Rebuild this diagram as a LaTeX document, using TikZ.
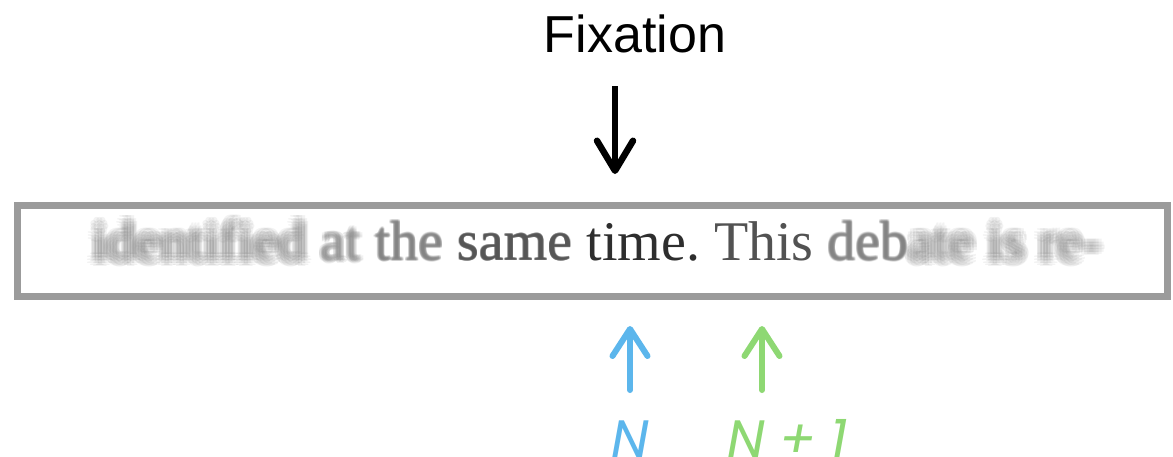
\documentclass[tikz,border=0pt]{standalone}
\usepackage{fontspec}
\setmainfont{Liberation Serif}
\newfontfamily\labelfont{Liberation Sans}
\newfontfamily\nfont[FakeSlant=0.18]{Poppins}
\usetikzlibrary{arrows.meta}
\definecolor{boxgray}{HTML}{9B9B9B}
\definecolor{nblue}{HTML}{5CB6EC}
\definecolor{ngreen}{HTML}{8ED873}
\tikzset{
  word/.style={inner sep=0pt, outer sep=0pt, anchor=base west, font=\fontsize{56}{60}\selectfont},
  nlabel/.style={inner sep=0pt, outer sep=0pt, font=\nfont\fontsize{54}{60}\selectfont},
  uparrow/.style={line width=6pt, line cap=round, -{Straight Barb[length=27pt,width=35pt,line cap=round,line join=round]}}
}
\newcommand\blurword[6]{% name, position, text, color, radius, opacity
  \coordinate (#1-o) at (#2);
  \foreach \k in {0,30,...,330}{\node[word,text=#4,opacity=#6] (#1-a\k) at ([shift={(\k:#5pt)}]#1-o) {#3};}
  \foreach \k in {0,60,...,300}{\node[word,text=#4,opacity=#6] (#1-b\k) at ([shift={(\k+30:#5pt*0.5)}]#1-o) {#3};}
  \node[word,text=#4,opacity=#6] (#1) at (#1-o) {#3};
}
\begin{document}
\begin{tikzpicture}[x=1pt,y=-1pt]
\useasboundingbox (0,0) rectangle (1173,456);
\clip (0,0) rectangle (1173,456);
\fill[white] (0,0) rectangle (1173,456);
% title and fixation arrow
\node[inner sep=0pt, anchor=base, font=\labelfont\fontsize{52}{56}\selectfont] (fix) at (635,52) {Fixation};
\coordinate (fixtop) at (615,86);
\coordinate (fixbot) at (615,174);
\draw[line width=6.5pt, -{Straight Barb[length=30pt,width=36pt,line cap=round,line join=round]}] (fixtop) -- (fixbot);
% box
\node[draw=boxgray, line width=7pt, inner sep=0pt, minimum width=1150pt, minimum height=91pt, anchor=north west] (box) at (14,202) {};
% words
\blurword{w1}{92,260}{identified}{black!50}{6}{0.1}
\blurword{w2}{[xshift=14pt]w1.base east}{at}{black!45}{3}{0.12}
\blurword{w3}{[xshift=14pt]w2.base east}{the}{black!50}{1.4}{0.14}
\blurword{w4}{[xshift=14pt]w3.base east}{same}{black!68}{0.5}{0.16}
\node[word, text=black!82] (w5) at ([xshift=14pt]w4.base east) {time.};
\node[word, text=black!68] (w6) at ([xshift=14pt]w5.base east) {This};
\blurword{w7}{[xshift=14pt]w6.base east}{deb}{black!50}{1.2}{0.14}
\blurword{w8}{w7.base east}{ate}{black!48}{6}{0.1}
\blurword{w9}{[xshift=14pt]w8.base east}{is}{black!48}{6}{0.1}
\blurword{w10}{[xshift=14pt]w9.base east}{re-}{black!45}{6}{0.1}
% N arrows
\coordinate (nbot) at (630,390);
\coordinate (ntop) at (630,326);
\draw[uparrow, nblue] (nbot) -- (ntop);
\coordinate (mbot) at (762,390);
\coordinate (mtop) at (762,326);
\draw[uparrow, ngreen] (mbot) -- (mtop);
\node[nlabel, text=nblue, anchor=base] (n) at (627,458) {N};
\node[nlabel, text=ngreen, anchor=base west] (n1) at (724,458) {N + 1};
\end{tikzpicture}
\end{document}
